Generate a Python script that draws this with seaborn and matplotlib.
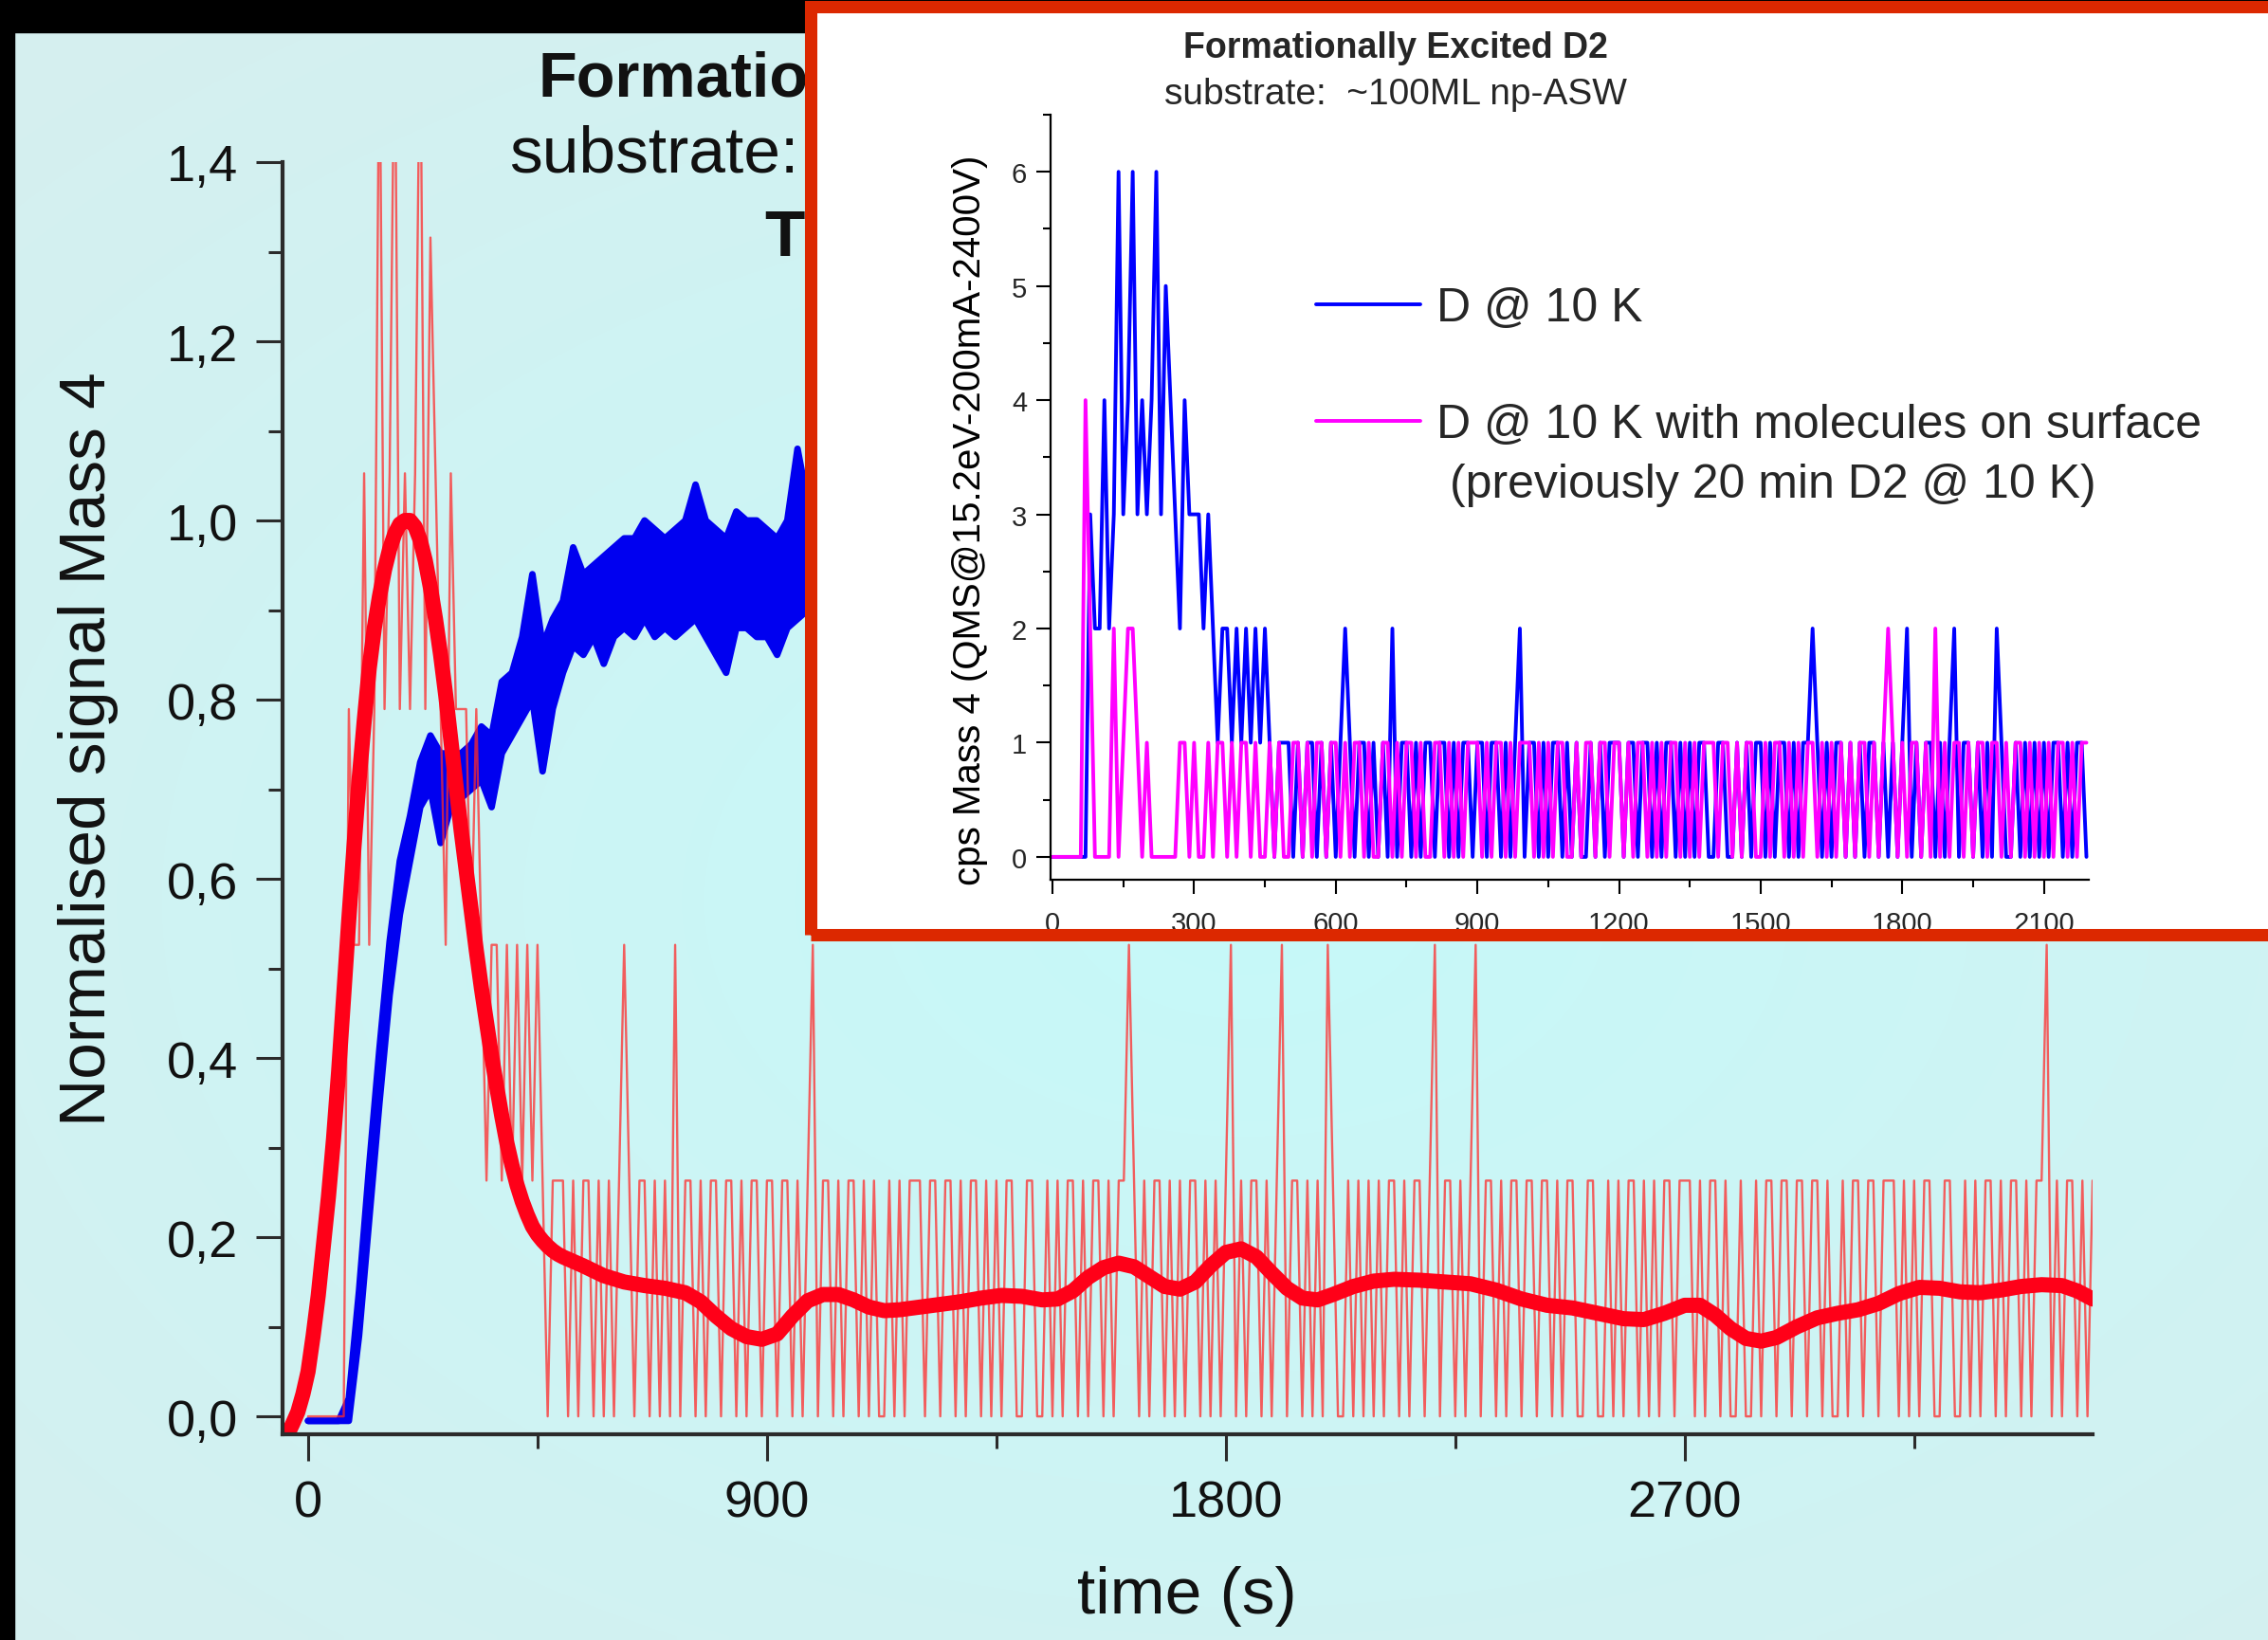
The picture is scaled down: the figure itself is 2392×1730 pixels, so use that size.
import numpy as np
import matplotlib
matplotlib.use("Agg")
import matplotlib.pyplot as plt
from matplotlib.patches import Rectangle
from matplotlib.ticker import MultipleLocator, FixedLocator, FuncFormatter
import seaborn as sns

sns.set_theme(style="ticks")
plt.rcParams["font.family"] = ["Liberation Sans", "DejaVu Sans"]

# ------------------------------------------------------------------
# Data
# ------------------------------------------------------------------
SAMPLE_STEP = 10          # s between two QMS readings
NORM_COUNTS = 3.8         # count rate that corresponds to 1.0 after normalisation

# Mass 4 counts, D @ 10 K (one string per 100 s, one digit per reading)
d_10k_chunks = [
    "0000000032", "2423634634", "3463543243", "3323212212", "1212121011",
    "1010110101", "0121011010", "1020110101", "1011010110", "1101101012",
    "0110101101", "0100101011", "1011011010", "1101010110", "0110010101",
    "1010110101", "1210101101", "0101101010", "1201011010", "1201101010",
    "2100101010", "1011010110", "1201101012", "0110101101", "1011010110",
    "0110010101", "1010101101", "1101011010", "0100101101", "1011011010",
    "0101101101", "1101010110", "0110010101", "1010110101", "1201011010",
    "1",
]

# Mass 4 counts, D @ 10 K with molecules on surface
d_10k_mol_chunks = [
    "0000000420", "0002012210", "1000000110", "1001011010", "1101001010",
    "0110101101", "1010110100", "1101011010", "0110101011", "1010110101",
    "1101010110", "0101101101", "1010110101", "0110101011", "1011010110",
    "0101101010", "1101010101", "0110101210", "1011010201", "0110101101",
    "1010110101", "0101101011",
]

# Smoothed normalised D signal
smooth_t = [-50, -40, -30, -20, -10, 0, 10, 20, 30, 40, 50, 60, 70, 80, 90,
            100, 110, 120, 130, 140, 150, 160, 170, 180, 190, 200, 210, 220,
            230, 240, 250, 260, 270, 280, 290, 300, 310, 320, 330, 340, 350,
            360, 370, 380, 390, 400, 410, 420, 430, 440, 450, 460, 470, 480,
            490, 500, 540, 580, 620, 660, 700, 740, 770, 800, 830, 860, 890,
            920, 950, 980, 1010, 1040, 1070, 1100, 1130, 1160, 1200, 1240,
            1280, 1320, 1360, 1400, 1440, 1470, 1500, 1530, 1560, 1590, 1620,
            1650, 1680, 1710, 1740, 1770, 1800, 1830, 1860, 1890, 1920, 1950,
            1980, 2010, 2050, 2090, 2130, 2180, 2230, 2280, 2330, 2380, 2430,
            2480, 2530, 2580, 2620, 2660, 2700, 2730, 2760, 2790, 2820, 2850,
            2880, 2920, 2960, 3000, 3040, 3080, 3120, 3160, 3200, 3240, 3280,
            3320, 3360, 3400, 3440, 3470, 3500]
smooth_norm = [-0.03, -0.02, -0.008, 0.005, 0.025, 0.05, 0.09, 0.135, 0.19,
               0.245, 0.31, 0.385, 0.47, 0.555, 0.635, 0.71, 0.775, 0.835,
               0.88, 0.915, 0.945, 0.968, 0.985, 0.996, 1.0, 1.0, 0.993,
               0.978, 0.955, 0.925, 0.89, 0.85, 0.805, 0.755, 0.705, 0.655,
               0.61, 0.565, 0.52, 0.478, 0.44, 0.402, 0.368, 0.335, 0.305,
               0.28, 0.258, 0.24, 0.225, 0.212, 0.203, 0.196, 0.19, 0.185,
               0.181, 0.178, 0.168, 0.157, 0.150, 0.146, 0.143, 0.138, 0.128,
               0.112, 0.098, 0.089, 0.086, 0.092, 0.112, 0.129, 0.136, 0.136,
               0.130, 0.122, 0.118, 0.119, 0.122, 0.125, 0.128, 0.132, 0.135,
               0.134, 0.130, 0.131, 0.140, 0.155, 0.166, 0.171, 0.167, 0.156,
               0.145, 0.142, 0.150, 0.168, 0.183, 0.187, 0.178, 0.160, 0.143,
               0.132, 0.130, 0.136, 0.145, 0.151, 0.153, 0.152, 0.150, 0.148,
               0.141, 0.131, 0.124, 0.121, 0.115, 0.109, 0.108, 0.115, 0.124,
               0.124, 0.113, 0.098, 0.087, 0.084, 0.088, 0.100, 0.110, 0.115,
               0.119, 0.126, 0.137, 0.144, 0.143, 0.139, 0.138, 0.141, 0.145,
               0.147, 0.146, 0.140, 0.131]

# Normalised D2 signal: lower and upper edge of the noise band, 20 s apart
d2_step = 20
d2_low = [-0.005, -0.005, -0.005, -0.005, -0.005, 0.09, 0.22, 0.35, 0.47, 0.56,
          0.62, 0.68, 0.70, 0.64, 0.68, 0.69, 0.70, 0.71, 0.68, 0.74,
          0.76, 0.78, 0.80, 0.72, 0.79, 0.83, 0.86, 0.85, 0.87, 0.84,
          0.87, 0.88, 0.87, 0.89, 0.87, 0.88, 0.87, 0.88, 0.89, 0.87,
          0.85, 0.83, 0.88, 0.88, 0.87, 0.87, 0.85, 0.88, 0.89, 0.90,
          0.90, 0.91, 0.89, 0.90, 0.89, 0.90]
d2_high = [-0.005, -0.005, -0.005, -0.005, 0.02, 0.14, 0.28, 0.41, 0.53, 0.62,
           0.67, 0.73, 0.76, 0.74, 0.74, 0.74, 0.75, 0.77, 0.76, 0.82,
           0.83, 0.87, 0.94, 0.86, 0.89, 0.91, 0.97, 0.94, 0.95, 0.96,
           0.97, 0.98, 0.98, 1.00, 0.99, 0.98, 0.99, 1.00, 1.04, 1.00,
           0.99, 0.98, 1.01, 1.00, 1.00, 0.99, 0.98, 1.00, 1.08, 1.02,
           1.03, 1.02, 1.03, 1.01, 1.02, 1.03]

main_xticks = [0, 900, 1800, 2700]
main_yticks = [0.0, 0.2, 0.4, 0.6, 0.8, 1.0, 1.2, 1.4]
inset_xticks = [0, 300, 600, 900, 1200, 1500, 1800, 2100]
inset_yticks = [0, 1, 2, 3, 4, 5, 6]

# ------------------------------------------------------------------
d_10k = np.array([int(c) for c in "".join(d_10k_chunks)], dtype=float)
t_10k = np.arange(len(d_10k)) * SAMPLE_STEP
d_10k_mol = np.array([int(c) for c in "".join(d_10k_mol_chunks)], dtype=float)
t_10k_mol = np.arange(len(d_10k_mol)) * SAMPLE_STEP
n_inset = len(d_10k_mol)
t_d2 = np.arange(len(d2_low)) * d2_step

W, H = 2392, 1731
fig = plt.figure(figsize=(W / 100, H / 100), dpi=100)
fig.patch.set_facecolor("#cdf4f4")

def fx(px):
    return px / W

def fy(py):
    return 1 - py / H

# slide background
bg = fig.add_axes([0, 0, 1, 1], zorder=-10)
yy, xx = np.mgrid[0:1:220j, 0:1:300j]
r = np.clip(np.sqrt((xx - 0.55) ** 2 + ((yy - 0.45) / 0.9) ** 2) / 0.8, 0, 1)
inner = np.array([198, 249, 249]) / 255
outer = np.array([214, 239, 239]) / 255
bg.imshow(inner + (outer - inner) * r[..., None], extent=[0, 1, 0, 1],
          origin="lower", aspect="auto", interpolation="bilinear")
bg.axis("off")

fig.add_artist(Rectangle((0, 0), fx(15), 1, transform=fig.transFigure,
                         color="black", zorder=1))
fig.add_artist(Rectangle((0, fy(35)), 1, 35 / H, transform=fig.transFigure,
                         color="black", zorder=1))

# ------------------------------------------------------------------
# Main panel
# ------------------------------------------------------------------
dark = "#2b2b2b"
blue = "#0000f0"
ax = fig.add_axes([fx(298), fy(1514), fx(2207) - fx(298), fy(172) - fy(1514)])
ax.set_facecolor("none")

ax.fill_between(t_d2, d2_low, d2_high, color=blue, linewidth=0)
for edge in (d2_low, d2_high):
    sns.lineplot(x=t_d2, y=edge, ax=ax, color=blue, linewidth=5,
                 legend=False, sort=False, estimator=None,
                 solid_joinstyle="round")
sns.lineplot(x=t_10k, y=d_10k / NORM_COUNTS, ax=ax, color="#ff2a2a",
             alpha=0.75, linewidth=1.7, legend=False, sort=False, estimator=None)
sns.lineplot(x=smooth_t, y=smooth_norm, ax=ax, color="#ff0018",
             linewidth=11.5, legend=False, sort=False, estimator=None,
             solid_joinstyle="round", solid_capstyle="round")

ax.set_xlim(-50, 3500)
ax.set_ylim(-0.02, 1.4)
ax.xaxis.set_major_locator(FixedLocator(main_xticks))
ax.xaxis.set_minor_locator(MultipleLocator(450))
ax.yaxis.set_major_locator(FixedLocator(main_yticks))
ax.yaxis.set_minor_locator(MultipleLocator(0.1))
ax.yaxis.set_major_formatter(FuncFormatter(lambda v, _: f"{v:.1f}".replace(".", ",")))
ax.xaxis.set_major_formatter(FuncFormatter(lambda v, _: f"{v:.0f}"))
for s in ("top", "right"):
    ax.spines[s].set_visible(False)
for s in ("left", "bottom"):
    ax.spines[s].set_color(dark)
    ax.spines[s].set_linewidth(3)
ax.tick_params(which="major", direction="out", length=20, width=2.2,
               color=dark, labelsize=39, pad=14, labelcolor="#111111")
ax.tick_params(which="minor", direction="out", length=11, width=2.2, color=dark)
ax.set_ylabel("Normalised signal Mass 4", fontsize=50, color="#111111")
ax.yaxis.set_label_coords(-0.0906, 0.5395)
ax.set_xlabel("time (s)", fontsize=50, color="#111111")
ax.xaxis.set_label_coords(0.4997, -0.1028)

# slide heading, partly hidden behind the framed inset
fig.text(fx(567), fy(102), "Formatio", fontsize=48,
         fontweight="bold", va="baseline", ha="left", color="#111111", zorder=2)
fig.text(fx(537), fy(182), "substrate:", fontsize=50,
         va="baseline", ha="left", color="#111111", zorder=2)
fig.text(fx(806), fy(270), "T", fontsize=50, fontweight="bold",
         va="baseline", ha="left", color="#111111", zorder=2)

# ------------------------------------------------------------------
# Inset panel in a framed box
# ------------------------------------------------------------------
box = (fx(854.5), fy(986.5), fx(2393.5) - fx(854.5), fy(7.5) - fy(986.5))
fig.add_artist(Rectangle(box[:2], box[2], box[3], transform=fig.transFigure,
                         facecolor="white", edgecolor="none", zorder=5))

ins = fig.add_axes([fx(1108), fy(929), fx(2203) - fx(1108), fy(122) - fy(929)],
                   zorder=6)
ins.set_facecolor("none")
sns.lineplot(x=t_10k[:n_inset], y=d_10k[:n_inset], ax=ins, color="#0000ff",
             linewidth=2.8, label="D @ 10 K", sort=False, estimator=None)
sns.lineplot(x=t_10k_mol, y=d_10k_mol, ax=ins, color="#ff00ff",
             linewidth=2.8, label="D @ 10 K with molecules on surface",
             sort=False, estimator=None)
ins.set_xlim(-4, 2195)
ins.set_ylim(-0.2, 6.5)
ins.xaxis.set_major_locator(FixedLocator(inset_xticks))
ins.xaxis.set_minor_locator(MultipleLocator(150))
ins.yaxis.set_major_locator(FixedLocator(inset_yticks))
ins.yaxis.set_minor_locator(MultipleLocator(0.5))
for s in ("top", "right"):
    ins.spines[s].set_visible(False)
for s in ("left", "bottom"):
    ins.spines[s].set_color("black")
    ins.spines[s].set_linewidth(1.6)
ins.tick_params(which="major", direction="out", length=11, width=1.5,
                color="black", labelsize=21, pad=7)
ins.tick_params(axis="x", which="major", pad=12)
ins.tick_params(which="minor", direction="out", length=6, width=1.5, color="black")
ins.set_ylabel("cps Mass 4 (QMS@15.2eV-200mA-2400V)", fontsize=29, color="black")
ins.yaxis.set_label_coords(-0.060, 0.471)

ins.legend(loc="upper left", bbox_to_anchor=(fx(1388), fy(303)),
           bbox_transform=fig.transFigure, frameon=False, fontsize=36,
           handlelength=2.2, handletextpad=0.34, labelspacing=1.54,
           borderpad=0, borderaxespad=0)
ins.text(fx(1529), fy(525), "(previously 20 min D2 @ 10 K)", fontsize=36,
         va="baseline", ha="left", transform=fig.transFigure)

ins.text(fx(1472), fy(61), "Formationally Excited D2", fontsize=27,
         fontweight="bold", ha="center", va="baseline", transform=fig.transFigure)
ins.text(fx(1472), fy(110), "substrate:  ~100ML np-ASW", fontsize=28,
         ha="center", va="baseline", transform=fig.transFigure)

fig.add_artist(Rectangle(box[:2], box[2], box[3], transform=fig.transFigure,
                         facecolor="none", edgecolor="#dc2800", linewidth=9.4,
                         zorder=7))

fig.savefig("out.png", dpi=100)
